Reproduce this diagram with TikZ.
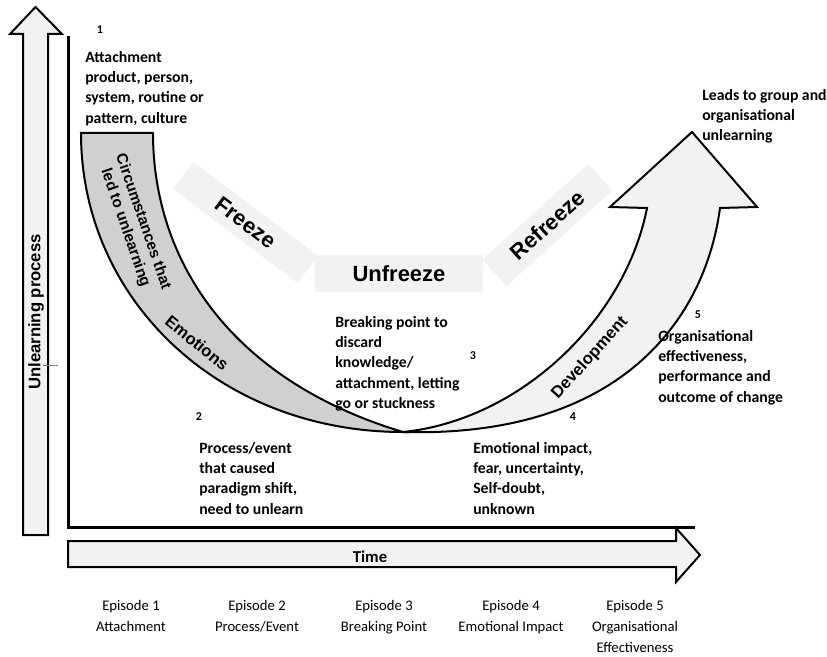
\documentclass[tikz,border=0pt]{standalone}
\usepackage{fontspec}
\setmainfont{Carlito}
\newfontfamily\arialfont{Liberation Sans}
\usepackage{xcolor}
\definecolor{ArrowFill}{HTML}{F2F2F2}
\definecolor{BandGray}{HTML}{D0D0D0}
\definecolor{PhaseGray}{HTML}{F2F2F2}
\usepackage{tikz}
\usetikzlibrary{positioning,calc}

\tikzset{
  note/.style={font=\bfseries\fontsize{11.8}{15.2}\selectfont, align=left, anchor=north west, inner sep=0pt},
  stepnum/.style={font=\bfseries\fontsize{9}{10}\selectfont, inner sep=0pt},
  phase/.style={fill=PhaseGray, inner sep=0pt, font=\arialfont\bfseries\fontsize{16.5}{18}\selectfont},
  bandlabel/.style={font=\arialfont\bfseries\fontsize{12.5}{14}\selectfont, align=center, inner sep=0pt},
  outline/.style={draw=black, line width=1.5pt, line join=miter}
}

\begin{document}
\begin{tikzpicture}[x=0.75pt, y=-0.75pt]
    \useasboundingbox (0,0) rectangle (827,656);

    % Phase boxes behind the curves
    \node[phase, minimum width=117pt, minimum height=25.5pt, rotate=-37] (freeze) at (245.5,222.5) {Freeze};
    \node[phase, minimum width=126pt, minimum height=27.75pt] (unfreeze) at (399,273.5) {Unfreeze};
    \node[phase, minimum width=107pt, minimum height=27pt, rotate=42] (refreeze) at (547.5,225) {Refreeze};

    % Unlearning process arrow and axes
    \draw[outline, fill=ArrowFill] (23,535) -- (23,34) -- (10,34) -- (35.5,7) -- (62,34) -- (48,34) -- (48,535) -- cycle;
    \node[bandlabel, rotate=90] (unlearning) at (36,312) {Unlearning process};
    \draw[gray, line width=0.4pt] (43,365) -- (58,365);
    \draw[line width=2.25pt] (68,36) -- (68,527) -- (695,527);

    % Time arrow
    \draw[outline, fill=ArrowFill] (68,541) -- (676,541) -- (676,528) -- (700,555) -- (676,582) -- (676,567) -- (68,567) -- cycle;
    \node[font=\bfseries\fontsize{12.5}{14}\selectfont] (time) at (370,557) {Time};

    % Left band: circumstances and emotions
    \draw[outline, fill=BandGray] (81,133) -- (153,133)
      .. controls (153,260) and (230,380) .. (403,432)
      .. controls (220,432) and (81,300) .. (81,133) -- cycle;
    \node[bandlabel, font=\arialfont\bfseries\fontsize{11.5}{14}\selectfont, rotate=-71] (circum) at (134,225) {Circumstances that\\led to unlearning};
    \node[bandlabel, rotate=-39] (emotions) at (197,343) {Emotions};

    % Right arrow: development
    \draw[outline, fill=ArrowFill] (403,432)
      .. controls (520,420) and (625,320) .. (647,208)
      -- (610,207) -- (692,132) -- (757,207) -- (720,208)
      .. controls (705,320) and (620,438) .. (403,432) -- cycle;
    \node[bandlabel, rotate=48] (develop) at (590,358) {Development};

    % Numbered notes
    \node[stepnum] (n1) at (100,30) {1};
    \node[note] (attach) at (85,51) {Attachment\\product, person,\\system, routine or\\pattern, culture};
    \node[stepnum] (n2) at (199,417) {2};
    \node[note] (process) at (199,442) {Process/event\\that caused\\paradigm shift,\\need to unlearn};
    \node[stepnum] (n3) at (473,356) {3};
    \node[note] (breaking) at (335,316) {Breaking point to\\discard\\knowledge/\\attachment, letting\\go or stuckness};
    \node[stepnum] (n4) at (573,417) {4};
    \node[note] (impact) at (473,442) {Emotional impact,\\fear, uncertainty,\\Self-doubt,\\unknown};
    \node[stepnum] (n5) at (698,315) {5};
    \node[note] (effect) at (658,330) {Organisational\\effectiveness,\\performance and\\outcome of change};
    \node[note] (leads) at (702,89) {Leads to group and\\organisational\\unlearning};

    % Episodes along the time axis
    \foreach \ex/\ep/\lab in {131/1/Attachment, 257/2/{Process/Event}, 384/3/{Breaking Point}, 511/4/{Emotional Impact}, 635/5/{Organisational\\Effectiveness}} {
      \node[font=\fontsize{11}{15.6}\selectfont, align=center, anchor=north, inner sep=0pt] (ep\ep) at (\ex,600) {Episode \ep\\\lab};
    }
\end{tikzpicture}
\end{document}
